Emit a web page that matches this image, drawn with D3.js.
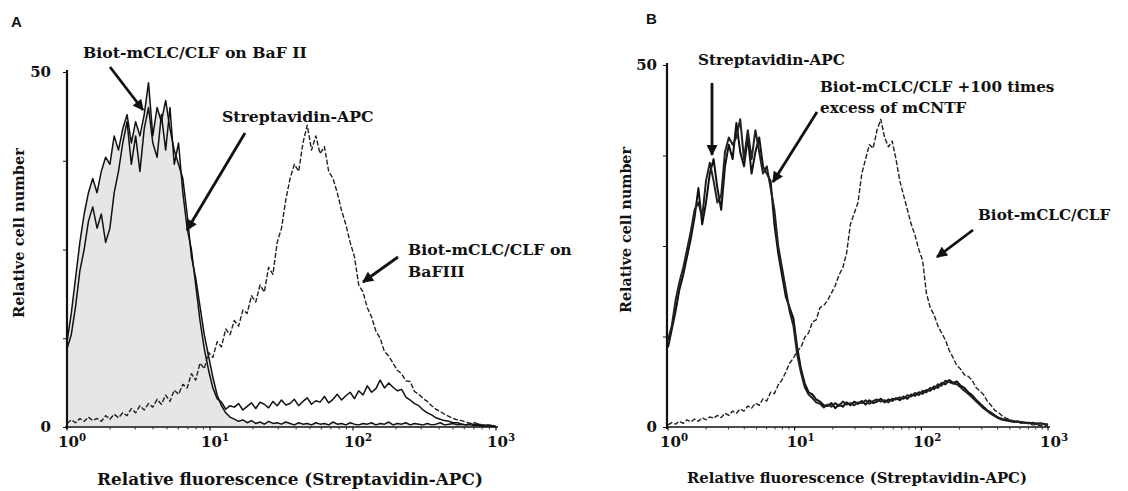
<!DOCTYPE html>
<html>
<head>
<meta charset="utf-8">
<script src="https://cdn.jsdelivr.net/npm/d3@7"></script>
<style>
  html,body{margin:0;padding:0;background:#fff;}
  svg{display:block;}
  .lbl{font-family:"DejaVu Serif",serif;font-weight:bold;fill:#111;}
</style>
</head>
<body>
<svg id="chart" width="1128" height="491"></svg>
<script>
// ---------- DATA (histogram channels, one value per log-bin of width binStep decades, starting at 10^0) ----------
const binStep = 0.03;
const decadeExponents = [0, 1, 2, 3];
const yTickValues = [0, 12.5, 25, 37.5, 50];
const yTickLabels = ["0", "", "", "", "50"];

// Panel A
const panelA_BaFII = [12,16,21,26,30,33,35,33,36,38,
 37,41,39,42,44,40,43,41,44,48.5,
 41,45,43,46,42,39,37,35,30,24,
 21,17,13,10,7,4.5,3,2,1.4,1.1,
 0.8,1,0.6,0.9,0.5,0.7,0.4,0.8,0.5,0.6,
 0.4,0.7,0.5,0.3,0.6,0.4,0.5,0.3,0.6,0.4,
 0.5,0.3,0.7,0.4,0.5,0.3,0.6,0.4,0.3,0.5,
 0.4,0.6,0.3,0.5,0.4,0.7,0.3,0.5,0.4,0.6,
 0.3,0.5,0.4,0.3,0.5,0.3,0.4,0.6,0.3,0.4,
 0.5,0.3,0.4,0.3,0.5,0.3,0.4,0.2,0.3,0.2,0.1];
const panelA_Strep = [11,13,17,22,25,29,31,28,30,26,
 28,33,36,40,43,37,41,36,42,45,
 40,38,44,39,45,37,40,33,28,25,
 20,15,11,8,5.5,4,3.5,2.5,3,2.8,
 3.3,2.4,2.9,3.4,2.6,3.5,3.2,2.7,3.6,3.0,
 3.8,3.1,3.3,3.9,3.0,3.6,4.1,3.2,3.7,3.5,
 4.3,3.4,3.9,4.6,3.8,4.4,4.9,4.0,5.1,4.5,
 5.8,4.9,5.4,6.6,5.5,6.2,5.6,5.1,5.3,4.2,
 3.8,3.3,3,2.4,2,1.7,1.3,1.1,0.9,0.8,
 0.6,0.6,0.4,0.3,0.3,0.2,0.2,0.1,0.1,0.1,0];
const panelA_BaFIII = [0.5,1,0.6,1.2,0.8,1.4,0.9,1.2,0.8,1.6,
 1.1,1.8,1.3,2,1.6,2.6,2,3,2.4,3.3,
 2.8,3.9,3.2,4.5,3.6,5.2,4.6,6,5.5,7.5,
 6.6,9,8.2,10.5,9.8,12,11.3,13.8,13,15,
 14.2,16.5,16,18.5,17.6,20,19,22.5,21.5,26,
 28,32,35,37,36,40,42.5,39,41,38.5,
 39.5,36,35,33,30.5,28.5,26,24,20,19,
 16.8,15.5,13.5,12.5,10.6,10,9,8,7.5,6.5,
 6.4,5,4.6,4,3.6,3,2.5,2.2,1.8,1.5,
 1.2,1,0.9,0.7,0.5,0.6,0.4,0.3,0.3,0.2,0];

// Panel B
const panelB_Strep = [11,13.5,16,19,21,23.5,26,29,33,28,
 31,35,37,33,30,36,39,37,42,38,
 36,40,35,38,40,36,35,34,28,24,
 21,18,16.5,15,11,8,6,4.8,4.5,3.8,
 3.5,3,2.9,3.3,2.6,3.1,2.8,3.4,3,3.5,
 3.2,3.6,3.1,3.7,3.3,3.5,3.9,3.4,3.8,3.6,
 4,3.7,4.2,3.9,4.5,4.3,4.8,4.6,5.1,5,
 5.6,5.4,6.1,5.9,6.5,6.1,6.3,5.7,5.4,4.8,
 4.4,3.8,3.3,2.8,2.3,2,1.6,1.3,1.1,1,
 0.9,0.8,0.7,0.7,0.6,0.6,0.5,0.5,0.5,0.4,0.3];
const panelB_mCNTF = [12,14,17.5,20,22,24.5,27,30,31,29,
 34,36.5,34,31,32,38,40,39,40,42.5,
 37,41,37,41,38,35,36,33,30,25,
 22,19,16,14,10,7.5,5.5,4.5,4,3.4,
 3.2,2.7,3.1,2.8,3.3,2.9,3.5,3.1,3.3,3,
 3.4,3.3,3.7,3.2,3.6,3.8,3.5,3.7,3.4,3.9,
 3.8,4.1,3.9,4.4,4.2,4.7,4.4,5,4.8,5.4,
 5.2,5.9,5.7,6.4,6.2,6,5.9,5.5,5,4.6,
 4.1,3.6,3.1,2.6,2.2,1.8,1.5,1.2,1,0.9,
 0.8,0.7,0.8,0.6,0.6,0.5,0.6,0.4,0.5,0.4,0.3];
const panelB_Biot = [0.3,0.6,0.4,0.8,0.5,1,0.7,1.1,0.8,1.3,
 1,1.4,1.2,1.6,1.3,1.9,1.6,2.2,1.9,2.5,
 2.2,2.9,2.6,3.3,3,3.9,3.6,4.8,4.6,5.8,
 6.5,7.6,8.8,9.5,10.5,11,12.4,13,14.5,14.8,
 16.5,16.8,17.5,18.5,19.5,21,22,24,28,29.5,
 31,35,37,39,38.5,41,42.5,40,38.7,39.5,
 37,34,32,30,28,26.5,24.5,23,18.5,16.5,
 15.5,14,13,12,10.6,9.6,8.5,8,7.2,7,
 6.5,5.5,5,4.5,3.6,3,2.3,2,1.5,1.2,
 1,0.8,0.7,0.5,0.6,0.4,0.3,0.3,0.2,0.2,0.1];

// ---------- DRAWING ----------
const svg = d3.select("#chart");
const toPts = arr => arr.map((v, i) => ({x: Math.pow(10, i * binStep), y: v}));

svg.append("defs").append("marker")
  .attr("id", "ah").attr("viewBox", "0 0 10 10").attr("refX", 9).attr("refY", 5)
  .attr("markerWidth", 12).attr("markerHeight", 11).attr("markerUnits", "userSpaceOnUse")
  .attr("orient", "auto")
  .append("path").attr("d", "M0,0 L10,5 L0,10 z").attr("fill", "#111");

function fitText(sel, target) {
  const w = sel.node().getComputedTextLength();
  const fs = parseFloat(sel.attr("font-size"));
  const nfs = fs * target / w;
  sel.attr("font-size", nfs);
  return nfs;
}

function panel(cfg) {
  const x = d3.scaleLog().domain([1, 1000]).range([cfg.x0, cfg.x1]);
  const y = d3.scaleLinear().domain([0, 50]).range([cfg.y0, cfg.y1]);
  const g = svg.append("g");
  const line = d3.line().x(d => x(d.x)).y(d => y(d.y));
  const area = d3.area().x(d => x(d.x)).y0(y(0)).y1(d => y(d.y));

  cfg.series.forEach(s => {
    const pts = toPts(s.values);
    if (s.fill) g.append("path").datum(pts).attr("d", area).attr("fill", s.fill);
  });
  cfg.series.forEach(s => {
    const pts = toPts(s.values);
    g.append("path").datum(pts).attr("d", line).attr("fill", "none")
      .attr("stroke", s.color).attr("stroke-width", s.width)
      .attr("stroke-dasharray", s.dash || null).attr("stroke-linejoin", "round");
  });

  // x axis
  const xa = g.append("g").attr("transform", `translate(0,${cfg.y0})`)
    .call(d3.axisBottom(x).tickValues(decadeExponents.map(e => Math.pow(10, e))).tickSize(0).tickFormat(""));
  xa.select(".domain").attr("d", `M${cfg.x0 - 2},0H${cfg.x1 + 2}`).attr("stroke", "#111").attr("stroke-width", 1.6);
  const minors = [];
  for (let e = 0; e < 3; e++) for (let m = 2; m <= 9; m++) minors.push(m * Math.pow(10, e));
  g.selectAll(null).data(minors).enter().append("line")
    .attr("x1", d => x(d)).attr("x2", d => x(d)).attr("y1", cfg.y0).attr("y2", cfg.y0 + 2.5)
    .attr("stroke", "#333").attr("stroke-width", 1);
  g.selectAll(null).data(decadeExponents).enter().append("line")
    .attr("x1", d => x(Math.pow(10, d))).attr("x2", d => x(Math.pow(10, d))).attr("y1", cfg.y0).attr("y2", cfg.y0 + 3.5)
    .attr("stroke", "#111").attr("stroke-width", 1.2);
  decadeExponents.forEach(e => {
    const t = g.append("text").attr("class", "lbl").attr("x", x(Math.pow(10, e)) + cfg.tickDx)
      .attr("y", cfg.y0 + cfg.tickDy).attr("text-anchor", "middle").attr("font-size", cfg.tickFs);
    t.append("tspan").text("10");
    t.append("tspan").attr("font-size", cfg.tickFs * 0.68).attr("dy", -cfg.tickFs * 0.4).text(String(e));
  });

  // y axis
  const ya = g.append("g").attr("transform", `translate(${cfg.yAxisX},0)`)
    .call(d3.axisLeft(y).tickValues(yTickValues).tickSize(4).tickFormat(""));
  ya.select(".domain").attr("d", `M0,${cfg.y1 - 2}V${cfg.y0 + 2}`).attr("stroke", "#111").attr("stroke-width", 2.2);
  ya.selectAll(".tick line").attr("stroke", "#111").attr("stroke-width", 1);
  yTickValues.forEach((v, i) => {
    if (!yTickLabels[i]) return;
    g.append("text").attr("class", "lbl").attr("x", cfg.yAxisX - cfg.yLabelGap).attr("y", y(v))
      .attr("dy", "0.36em").attr("text-anchor", "end").attr("font-size", cfg.yFs).text(yTickLabels[i]);
  });

  // titles
  const xt = g.append("text").attr("class", "lbl").attr("x", cfg.xTitle[0]).attr("y", cfg.xTitle[1])
    .attr("text-anchor", "middle").attr("font-size", 14).text("Relative fluorescence (Streptavidin-APC)");
  fitText(xt, cfg.xTitle[2]);
  const yt = g.append("text").attr("class", "lbl")
    .attr("transform", `translate(${cfg.yTitle[0]},${cfg.yTitle[1]}) rotate(-90)`)
    .attr("text-anchor", "middle").attr("dominant-baseline", "middle").attr("font-size", 14).text("Relative cell number");
  fitText(yt, cfg.yTitle[2]);

  // panel letter
  g.append("text").attr("x", cfg.letter[0]).attr("y", cfg.letter[1]).attr("font-family", "Liberation Sans, Arial, sans-serif")
    .attr("font-weight", "bold").attr("font-size", 15).attr("fill", "#111").text(cfg.letter[2]);

  // annotations
  let annFs = null;
  cfg.notes.forEach(n => {
    const t = g.append("text").attr("class", "lbl").attr("x", n.x).attr("y", n.y)
      .attr("font-size", annFs || 14).text(n.text);
    if (n.w) annFs = fitText(t, n.w);
  });
  cfg.arrows.forEach(a => {
    g.append("line").attr("x1", a[0]).attr("y1", a[1]).attr("x2", a[2]).attr("y2", a[3])
      .attr("stroke", "#111").attr("stroke-width", 2.8).attr("marker-end", "url(#ah)");
  });
}

panel({
  x0: 67, x1: 496, y0: 427, y1: 72, yAxisX: 67, yLabelGap: 16, yFs: 15,
  tickDx: 5, tickDy: 20, tickFs: 15,
  xTitle: [290, 485, 386], yTitle: [20, 233, 170], letter: [11, 27, "A"],
  series: [
    {values: panelA_BaFII, color: "#111", width: 1.5, fill: "#e6e6e6"},
    {values: panelA_Strep, color: "#111", width: 1.5},
    {values: panelA_BaFIII, color: "#222", width: 1.4, dash: "5,2"}
  ],
  notes: [
    {text: "Biot-mCLC/CLF on BaF II", x: 83, y: 58, w: 224},
    {text: "Streptavidin-APC", x: 222, y: 122},
    {text: "Biot-mCLC/CLF on", x: 408, y: 255},
    {text: "BaFIII", x: 408, y: 277}
  ],
  arrows: [[110, 67, 143, 110], [245, 133, 187, 230], [398, 257, 363, 282]]
});

panel({
  x0: 668, x1: 1048, y0: 427, y1: 65, yAxisX: 667, yLabelGap: 10, yFs: 15,
  tickDx: 6, tickDy: 20, tickFs: 15,
  xTitle: [857, 483, 340], yTitle: [627, 230, 166], letter: [646, 24, "B"],
  series: [
    {values: panelB_Strep, color: "#111", width: 2},
    {values: panelB_mCNTF, color: "#222", width: 2},
    {values: panelB_Biot, color: "#222", width: 1.4, dash: "5,2"}
  ],
  notes: [
    {text: "Streptavidin-APC", x: 698, y: 65, w: 147},
    {text: "Biot-mCLC/CLF +100 times", x: 820, y: 92},
    {text: "excess of mCNTF", x: 820, y: 113},
    {text: "Biot-mCLC/CLF", x: 978, y: 220}
  ],
  arrows: [[712, 83, 712, 155], [817, 112, 773, 182], [973, 230, 937, 257]]
});
</script>
</body>
</html>
